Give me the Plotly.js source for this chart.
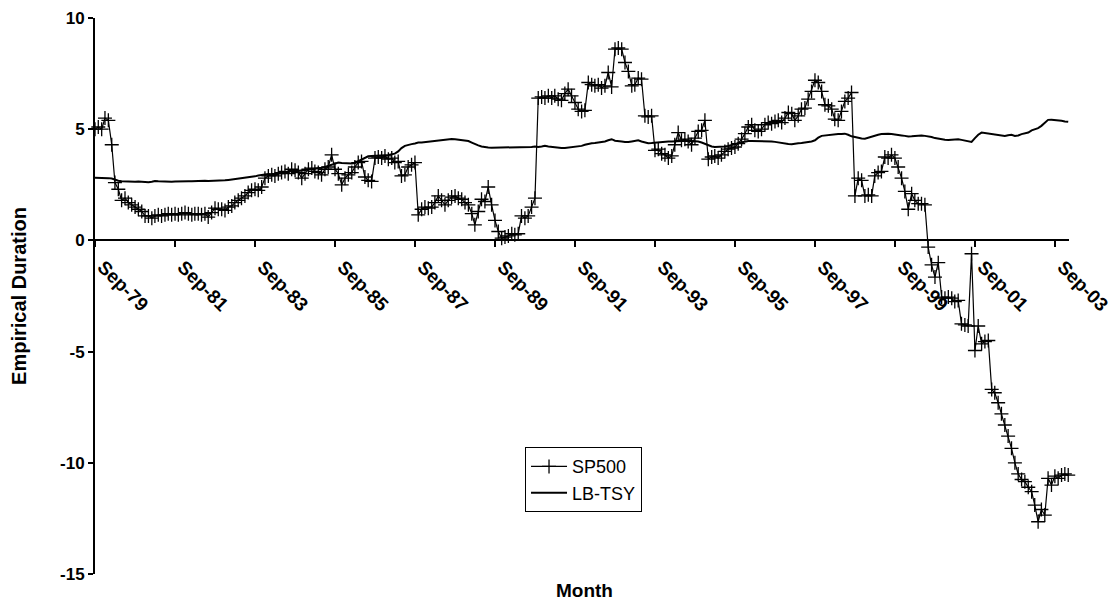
<!DOCTYPE html>
<html>
<head>
<meta charset="utf-8">
<script src="https://cdn.plot.ly/plotly-3.0.1.min.js"></script>
<style>html,body{margin:0;padding:0;background:#fff;}#chart{width:1113px;height:605px;}</style>
</head>
<body>
<div id="chart"></div>
<script>
// Monthly observations, first month = Sep-1979
const startYear = 1979, startMonth = 9;

const sp500 = [
  5.0, 5.1, 5.0, 5.5, 5.4, 4.3, 2.6, 2.3, 1.8, 1.9, 1.7, 1.6,
  1.5, 1.4, 1.3, 1.1, 1.1, 1.0, 1.1, 1.15, 1.1, 1.15, 1.2, 1.15,
  1.2, 1.15, 1.2, 1.25, 1.2, 1.15, 1.2, 1.2, 1.15, 1.2, 1.05, 1.25,
  1.45, 1.4, 1.4, 1.35, 1.5, 1.55, 1.7, 1.8, 1.9, 2.0, 2.15, 2.25,
  2.3, 2.25, 2.4, 2.8, 2.9, 2.95, 2.9, 3.0, 3.05, 3.1, 3.0, 3.2,
  3.15, 3.05, 2.8, 3.0, 3.2, 3.25, 3.1, 3.05, 2.95, 3.2, 3.3, 3.85,
  3.2, 3.0, 2.5, 2.8, 2.95, 3.05, 3.3, 3.5, 3.55, 2.85, 2.7, 2.65,
  3.7, 3.75, 3.7, 3.8, 3.65, 3.7, 3.5, 3.55, 2.9, 2.95, 3.3, 3.4,
  3.5, 1.15, 1.4, 1.5, 1.45, 1.5, 1.7, 2.0, 1.8, 1.6, 1.8, 1.95,
  2.0, 1.9, 1.85, 1.7, 1.6, 1.2, 0.7, 1.3, 1.85, 1.75, 2.4, 1.6,
  0.9, 0.4, 0.1, 0.15, 0.2, 0.3, 0.25, 0.3, 1.1, 1.0, 1.1, 1.5,
  1.9, 6.4, 6.45, 6.4, 6.5, 6.4, 6.5, 6.35, 6.3, 6.6, 6.8, 6.5,
  6.2, 5.9, 5.8, 5.85, 7.1, 7.0, 6.95, 7.0, 6.85, 6.95, 7.55, 6.9,
  8.6, 8.65, 8.6, 8.0, 7.6, 6.95, 7.0, 7.3, 7.25, 5.6, 5.55, 5.6,
  4.05, 4.1, 3.9, 3.85, 3.7, 3.8, 4.3, 4.85, 4.5, 4.55, 4.45, 4.3,
  4.6, 4.9, 4.95, 5.4, 3.65, 3.75, 3.8, 3.7, 3.85, 4.0, 4.1, 4.15,
  4.2, 4.35, 4.55, 4.8, 5.1, 5.2, 4.95, 4.9, 5.0, 5.2, 5.3, 5.25,
  5.35, 5.4, 5.3, 5.5, 5.75, 5.7, 5.4, 5.6, 5.9, 5.95, 6.35, 6.7,
  7.2, 7.1, 6.7, 6.1, 6.05, 5.9, 5.45, 5.4, 5.8, 6.25, 6.4, 6.65,
  2.0, 2.8, 2.7, 2.0, 2.05, 2.0, 2.9, 3.05, 3.1, 3.75, 3.7, 3.85,
  3.7, 3.3, 2.8, 2.2, 1.4, 2.1, 1.8, 1.65, 1.65, 1.6, -0.3, -1.1,
  -1.65, -1.0, -2.55, -2.6, -2.55, -2.6, -2.75, -2.7, -3.75, -3.8, -3.85, -0.6,
  -4.95, -3.85, -4.65, -4.55, -4.5, -6.7, -6.85, -7.3, -7.8, -8.3, -8.8, -9.35,
  -10.0, -10.5, -10.75, -10.85, -11.1, -11.3, -11.9, -12.65, -12.1, -12.35, -10.7, -11.0,
  -10.6, -10.7, -10.55, -10.5, -10.55
];

const lbTsy = [
  2.82, 2.82, 2.82, 2.8, 2.8, 2.78, 2.72, 2.68, 2.66, 2.65, 2.64, 2.63,
  2.64, 2.65, 2.63, 2.62, 2.62, 2.64, 2.67, 2.66, 2.65, 2.64, 2.63, 2.64,
  2.65, 2.66, 2.67, 2.67, 2.66, 2.66, 2.67, 2.68, 2.68, 2.68, 2.67, 2.67,
  2.67, 2.68, 2.68, 2.7, 2.72, 2.74, 2.76, 2.77, 2.78, 2.8, 2.82, 2.84,
  2.88, 2.92, 2.95, 2.97, 2.98, 2.97, 2.98, 3.0, 3.02, 3.05, 3.1, 3.12,
  3.1, 3.12, 3.15, 3.15, 3.17, 3.18, 3.2, 3.25, 3.27, 3.3, 3.35, 3.42,
  3.45, 3.5, 3.48, 3.47, 3.47, 3.46, 3.48, 3.55, 3.62, 3.68, 3.78, 3.8,
  3.8, 3.82, 3.82, 3.83, 3.84, 3.86, 3.9, 4.0, 4.15, 4.25, 4.3, 4.33,
  4.36, 4.4, 4.4, 4.42, 4.43, 4.45, 4.47, 4.5, 4.53, 4.55, 4.56, 4.56,
  4.55, 4.53, 4.52, 4.5, 4.47, 4.4, 4.33, 4.27, 4.22, 4.19, 4.18, 4.17,
  4.17, 4.17, 4.17, 4.17, 4.17, 4.17, 4.17, 4.17, 4.17, 4.18, 4.18, 4.2,
  4.22, 4.2, 4.22, 4.25, 4.22, 4.2, 4.18, 4.17, 4.16, 4.16, 4.18, 4.17,
  4.2, 4.22, 4.25, 4.3, 4.35, 4.37, 4.38, 4.4, 4.42, 4.45, 4.5, 4.55,
  4.48, 4.45, 4.45, 4.43, 4.42, 4.45, 4.47, 4.5, 4.45, 4.4, 4.37, 4.38,
  4.4, 4.4, 4.42, 4.43, 4.45, 4.45, 4.46, 4.45, 4.45, 4.47, 4.48, 4.47,
  4.47, 4.45, 4.4, 4.33, 4.27, 4.22, 4.2, 4.2, 4.22, 4.22, 4.25, 4.28,
  4.32, 4.38, 4.42, 4.45, 4.47, 4.47, 4.47, 4.47, 4.47, 4.47, 4.46, 4.45,
  4.43, 4.4, 4.37, 4.35, 4.33, 4.32, 4.35, 4.37, 4.38, 4.4, 4.42, 4.45,
  4.5, 4.62, 4.7, 4.72, 4.73, 4.75, 4.76, 4.78, 4.78, 4.8, 4.75, 4.68,
  4.65, 4.6, 4.58, 4.57, 4.62, 4.68, 4.72, 4.75, 4.78, 4.8, 4.8, 4.78,
  4.75, 4.72, 4.72, 4.7, 4.67, 4.68, 4.7, 4.72, 4.72, 4.7, 4.68, 4.65,
  4.6, 4.57, 4.55, 4.53, 4.52, 4.53, 4.55, 4.55, 4.52, 4.5, 4.48, 4.43,
  4.6, 4.75, 4.85, 4.83, 4.8, 4.78, 4.77, 4.75, 4.72, 4.7, 4.73, 4.75,
  4.7, 4.72, 4.78, 4.82, 4.85, 4.95, 5.0, 5.05, 5.15, 5.3, 5.42, 5.43,
  5.42, 5.4, 5.38, 5.35, 5.33
];

const tickDates = ['1979-09-01','1981-09-01','1983-09-01','1985-09-01','1987-09-01','1989-09-01',
  '1991-09-01','1993-09-01','1995-09-01','1997-09-01','1999-09-01','2001-09-01','2003-09-01'];
const tickLabels = ['Sep-79','Sep-81','Sep-83','Sep-85','Sep-87','Sep-89','Sep-91','Sep-93',
  'Sep-95','Sep-97','Sep-99','Sep-01','Sep-03'];
const yTicks = [-15, -10, -5, 0, 5, 10];
const yTickLabels = ['-15', '-10', '-5', '0', '5', '10'];

function monthList(n) {
  const out = [];
  for (let i = 0; i < n; i++) {
    const d = new Date(Date.UTC(startYear, startMonth - 1 + i, 1));
    const mm = String(d.getUTCMonth() + 1).padStart(2, '0');
    out.push(d.getUTCFullYear() + '-' + mm + '-01');
  }
  return out;
}
const monthsSP = monthList(sp500.length);
const monthsLB = monthList(lbTsy.length);

const FONT = 'Liberation Sans, Arial, sans-serif';

const traces = [
  {
    x: monthsSP, y: sp500, name: 'SP500', type: 'scatter', mode: 'lines+markers',
    line: {color: '#000', width: 1.2},
    marker: {symbol: 'cross-thin-open', size: 10, color: '#000', line: {color: '#000', width: 1.3}},
    cliponaxis: false
  },
  {
    x: monthsLB, y: lbTsy, name: 'LB-TSY', type: 'scatter', mode: 'lines',
    line: {color: '#000', width: 2},
    cliponaxis: false
  }
];

const layout = {
  width: 1113, height: 605,
  margin: {l: 95, r: 44, t: 18, b: 31},
  paper_bgcolor: '#fff', plot_bgcolor: '#fff',
  showlegend: true,
  legend: {
    x: 0.4415, y: 0.228, xanchor: 'left', yanchor: 'top',
    bgcolor: '#fff', bordercolor: '#000', borderwidth: 1,
    font: {family: FONT, size: 18, color: '#000'},
    tracegroupgap: 0, itemwidth: 36
  },
  xaxis: {
    type: 'date',
    range: ['1979-09-01', '2004-01-08'],
    anchor: 'free', position: (0 + 15) / 25,
    showline: true, linecolor: '#000', linewidth: 2,
    showgrid: false, zeroline: false,
    tickmode: 'array', tickvals: tickDates, ticktext: tickLabels,
    ticks: 'outside', ticklen: 6, tickwidth: 2, tickcolor: '#000',
    tickangle: 45, ticklabelshift: 8, ticklabelstandoff: 1,
    tickfont: {family: FONT, size: 19, color: '#000', weight: 700}
  },
  yaxis: {
    range: [-15, 10],
    showline: true, linecolor: '#000', linewidth: 2,
    showgrid: false, zeroline: false,
    tickmode: 'array', tickvals: yTicks, ticktext: yTickLabels,
    ticks: 'outside', ticklen: 5, tickwidth: 2, tickcolor: '#000',
    tickfont: {family: FONT, size: 17, color: '#000', weight: 700},
    title: {text: 'Empirical Duration', standoff: 28,
      font: {family: FONT, size: 20, color: '#000', weight: 700}}
  },
  annotations: [{
    text: 'Month', xref: 'paper', yref: 'paper', x: 0.503, y: -0.03,
    xanchor: 'center', yanchor: 'middle', showarrow: false,
    font: {family: FONT, size: 19, color: '#000', weight: 700}
  }]
};

Plotly.newPlot('chart', traces, layout, {displayModeBar: false, staticPlot: true});
</script>
</body>
</html>
